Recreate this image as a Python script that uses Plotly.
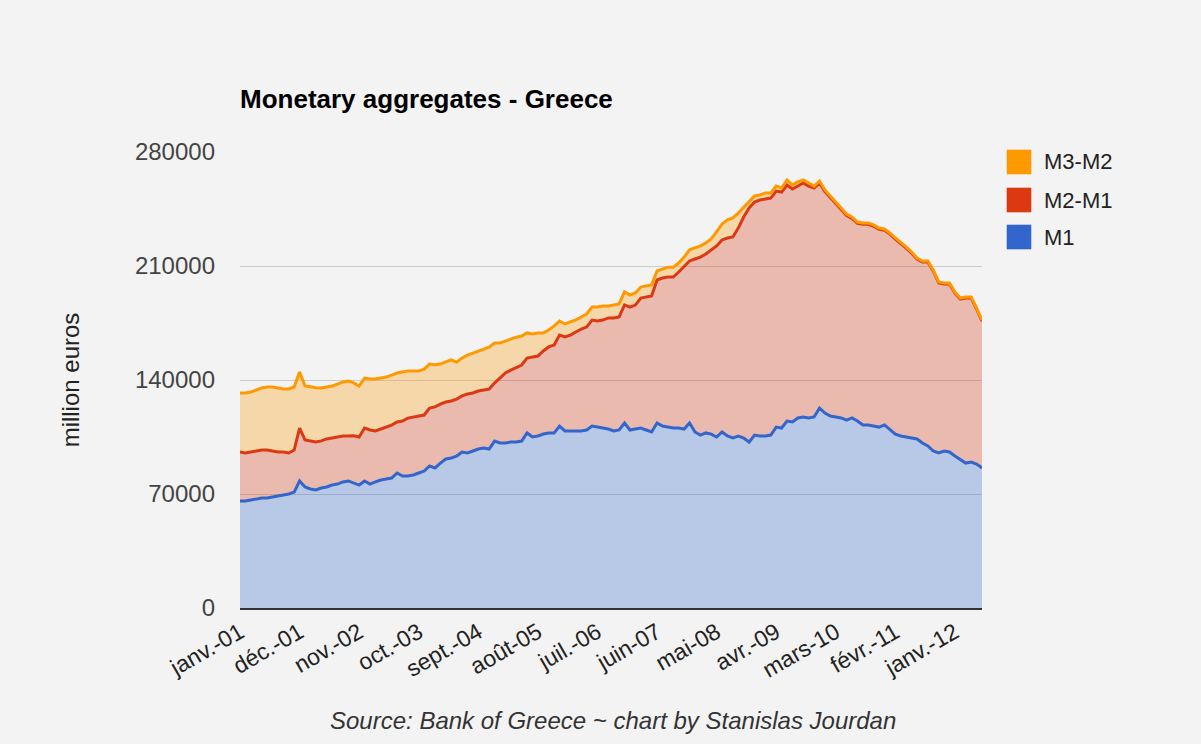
import plotly.graph_objects as go

# ---- data (million euros), monthly Jan 2001 .. Jun 2012 ----
fr_months = ["janv.", "févr.", "mars", "avr.", "mai", "juin",
             "juil.", "août", "sept.", "oct.", "nov.", "déc."]
months = [f"{fr_months[k % 12]}-{(1 + k // 12):02d}" for k in range(138)]

M1 = [65700, 65700, 66300, 66900, 67500, 67500, 68200, 68800, 69400, 70000,
      71200, 78000, 74300, 73100, 72500, 73700, 74300, 75500, 76100, 77400,
      78000, 76800, 75500, 78000, 76100, 77400, 78600, 79200, 79800, 82900,
      81000, 81000, 81700, 82900, 84100, 87200, 86000, 89000, 91500, 92100,
      93300, 95800, 95200, 96400, 97600, 98200, 97600, 102500, 101300, 101300,
      101900, 101900, 102500, 107500, 105000, 105600, 106800, 107500, 107500, 111700,
      108700, 108700, 108700, 108700, 109300, 111700, 111100, 110500, 109900, 108700,
      109300, 113600, 109300, 109900, 110500, 109300, 108100, 113600, 111700, 111100,
      110500, 110500, 109900, 113600, 108100, 106200, 107500, 106800, 105000, 108100,
      105600, 104400, 105600, 104400, 101900, 106200, 105600, 105600, 106200, 111100,
      110500, 114800, 114200, 116700, 117300, 116700, 117300, 122800, 119700, 117900,
      117300, 116700, 115400, 116700, 114800, 112400, 112400, 111700, 111100, 112400,
      109300, 106800, 105600, 105000, 104400, 103800, 101300, 99500, 96400, 95200,
      96400, 95800, 93300, 90900, 89000, 89600, 88400, 86000]

M2_M1 = [30100, 29500, 29500, 29500, 29500, 29500, 28200, 27000, 26400, 25200,
         25800, 32500, 28900, 29500, 29500, 28900, 29500, 28900, 28900, 28200,
         27600, 28900, 29500, 32500, 33200, 31300, 31300, 31900, 32500, 31300,
         33800, 35600, 35600, 35000, 34400, 35600, 37500, 36200, 35000, 35000,
         35000, 34400, 36200, 35600, 35600, 35600, 36800, 35600, 39900, 43000,
         44200, 46000, 46700, 46000, 49100, 49100, 51000, 52800, 54000, 55900,
         57700, 58900, 60800, 62600, 63200, 65100, 65100, 66300, 68200, 69400,
         69400, 72500, 75500, 76100, 79800, 81700, 83500, 87800, 90900, 92100,
         92700, 95800, 100100, 99500, 106200, 109300, 109900, 113000, 117300, 117900,
         121600, 123400, 127700, 135700, 143700, 143100, 144900, 145500, 145500, 144900,
         144900, 144900, 143100, 142400, 143700, 142400, 140600, 138200, 136000, 134100,
         131100, 128000, 125600, 122500, 121400, 123200, 123200, 122700, 121400, 119500,
         120300, 119700, 118400, 116000, 113500, 110400, 111100, 113000, 110500, 104400,
         102600, 103200, 100100, 98800, 101400, 100800, 95200, 90200]

M3_M2 = [36200, 36800, 36800, 37500, 38100, 38700, 39300, 39300, 38700, 39300,
         38700, 34400, 33200, 33200, 33200, 32500, 31900, 31900, 32500, 33200,
         33800, 32500, 31300, 30700, 31300, 31900, 31300, 30700, 30700, 30100,
         30100, 28900, 28200, 27600, 28200, 27000, 25800, 24600, 24600, 25200,
         22700, 23300, 23900, 24600, 24600, 25200, 25800, 24600, 21500, 19600,
         19000, 18400, 17800, 15400, 14100, 14100, 11100, 10400, 11700, 8600,
         8000, 8000, 7400, 7400, 8000, 8000, 8600, 8600, 7400, 8000,
         8000, 8000, 7400, 7400, 6800, 6800, 6800, 5500, 5500, 6100,
         6100, 5500, 5500, 6800, 6800, 6800, 6800, 6800, 8600, 9800,
         11100, 11700, 9200, 6100, 3700, 3700, 3100, 3700, 3100, 3100,
         2500, 3100, 2500, 2500, 1800, 1800, 1200, 1200, 1000, 1000,
         900, 900, 900, 900, 800, 800, 800, 800, 800, 800,
         700, 700, 700, 700, 700, 700, 700, 600, 600, 600,
         600, 600, 600, 600, 600, 600, 600, 600]

y_ticks = [0, 70000, 140000, 210000, 280000]
x_tick_labels = months[::11]

series = [("M1", M1, "#3366cc", "rgba(51,102,204,0.3)"),
          ("M2-M1", M2_M1, "#dc3912", "rgba(220,57,18,0.3)"),
          ("M3-M2", M3_M2, "#ff9900", "rgba(255,153,0,0.3)")]

FONT = "Arial, Liberation Sans, sans-serif"
BG = "#f3f3f3"

fig = go.Figure()
for name, vals, col, fcol in series:
    fig.add_trace(go.Scatter(
        x=months, y=vals, name=name, mode="lines", stackgroup="one",
        line=dict(color=col, width=3), fillcolor=fcol, showlegend=False,
        hovertemplate=name + ": %{y}<extra></extra>"))

# legend (top to bottom: M3-M2, M2-M1, M1)
legend_items = list(reversed(series))
sq_top = [150, 188, 225]
shapes = []
annotations = []
L, R, T, B = 240, 982, 152, 608
W, H = R - L, B - T
for (name, vals, col, fcol), top in zip(legend_items, sq_top):
    shapes.append(dict(type="rect", xref="paper", yref="paper",
                       x0=(1007 - L) / W, x1=(1031 - L) / W,
                       y0=(B - top) / H, y1=(B - top - 24) / H,
                       fillcolor=col, line=dict(color=fcol.replace("0.3", "0.6"), width=1)))
    annotations.append(dict(xref="paper", yref="paper",
                            x=(1042 - L) / W, y=(B - top - 12) / H,
                            xanchor="left", yanchor="middle", showarrow=False,
                            text=name, font=dict(family=FONT, size=22, color="#222222")))

annotations.append(dict(xref="paper", yref="paper", x=(613 - L) / W, y=(B - 720) / H,
                        xanchor="center", yanchor="middle", showarrow=False,
                        text="<i>Source: Bank of Greece ~ chart by Stanislas Jourdan</i>",
                        font=dict(family=FONT, size=24, color="#333333")))

fig.update_layout(
    width=1201, height=744,
    margin=dict(l=L, r=1201 - R, t=T, b=744 - B, pad=0),
    paper_bgcolor=BG, plot_bgcolor=BG,
    font=dict(family=FONT, size=24, color="#444444"),
    title=dict(text="<b>Monetary aggregates - Greece</b>", xref="paper", x=0, xanchor="left",
               yref="container", y=1 - 99 / 744, yanchor="middle",
               font=dict(family=FONT, size=26, color="#000000")),
    shapes=shapes, annotations=annotations,
    showlegend=False,
)
fig.update_xaxes(type="category", range=[0, len(months) - 1],
                 tickmode="array", tickvals=x_tick_labels, ticktext=x_tick_labels,
                 tickangle=-30, showgrid=False, showline=True, linecolor="#333333",
                 linewidth=2, ticks="", tickfont=dict(size=23, color="#222222"))
fig.update_yaxes(range=[0, 280000], tickmode="array", tickvals=y_ticks,
                 ticktext=[str(v) for v in y_ticks], showgrid=True, gridcolor="#cccccc",
                 gridwidth=1, zeroline=False, showline=False, ticks="",
                 ticklabelstandoff=24, tickfont=dict(size=24, color="#444444"),
                 title=dict(text="million euros", standoff=48,
                            font=dict(size=24, color="#222222")))

fig.write_html("out.html", config={"displayModeBar": False},
               post_script="document.body.style.margin='0';")
